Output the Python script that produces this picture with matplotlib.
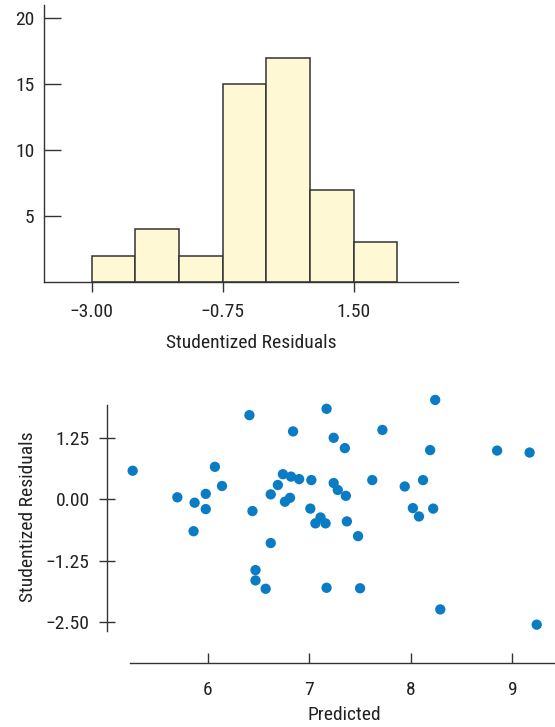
import matplotlib
matplotlib.use("Agg")
import matplotlib.pyplot as plt

plt.rcParams['font.family'] = ['Roboto Condensed', 'Liberation Sans', 'DejaVu Sans']

# histogram of studentized residuals
bin_edges = [-3.0, -2.25, -1.5, -0.75, 0.0, 0.75, 1.5, 2.25]
counts = [2, 4, 2, 15, 17, 7, 3]
hist_xticks = [-3.0, -0.75, 1.5]
hist_xticklabels = ['\u22123.00', '\u22120.75', '1.50']
hist_yticks = [5, 10, 15, 20]

# residuals vs predicted
predicted = [5.26, 5.70, 5.87, 5.86, 5.98, 5.98, 6.07, 6.14, 6.41, 6.44,
             6.47, 6.47, 6.57, 6.62, 6.62, 6.69, 6.74, 6.82, 6.76, 6.81,
             6.90, 6.84, 7.02, 7.01, 7.06, 7.11, 7.16, 7.17, 7.17, 7.24,
             7.24, 7.28, 7.36, 7.35, 7.37, 7.48, 7.50, 7.62, 7.72, 7.94,
             8.02, 8.08, 8.12, 8.19, 8.22, 8.24, 8.29, 8.85, 9.17, 9.24]
residuals = [0.58, 0.04, -0.07, -0.65, 0.11, -0.20, 0.66, 0.27, 1.71, -0.24,
             -1.44, -1.65, -1.82, -0.89, 0.10, 0.29, 0.51, 0.46, -0.05, 0.03,
             0.41, 1.38, 0.39, -0.19, -0.49, -0.37, -0.49, 1.84, -1.80, 1.25,
             0.33, 0.19, 0.07, 1.04, -0.45, -0.75, -1.81, 0.39, 1.41, 0.26,
             -0.18, -0.35, 0.39, 1.00, -0.19, 2.02, -2.24, 0.99, 0.95, -2.55]
sc_xticks = [6, 7, 8, 9]
sc_yticks = [1.25, 0.0, -1.25, -2.5]
sc_yticklabels = ['1.25', '0.00', '\u22121.25', '\u22122.50']

axis_col = '#333333'
text_col = '#222222'
bar_fill = '#fff8d4'
dot_col = '#0a7cc4'
fs = 14

fig = plt.figure(figsize=(5.55, 7.27), dpi=100)

# ---- top: histogram ----
ax1 = fig.add_axes([0.0793, 0.6121, 0.7459, 0.381])
lefts = bin_edges[:-1]
widths = [b - a for a, b in zip(bin_edges[:-1], bin_edges[1:])]
ax1.bar(lefts, counts, width=widths, align='edge', color=bar_fill,
        edgecolor=axis_col, linewidth=1.1, zorder=2)
ax1.set_xlim(-3.82, 3.29)
ax1.set_ylim(0, 21)
ax1.spines['top'].set_visible(False)
ax1.spines['right'].set_visible(False)
for s in ('left', 'bottom'):
    ax1.spines[s].set_color(axis_col)
    ax1.spines[s].set_linewidth(1.0)
    ax1.spines[s].set_zorder(3)
ax1.set_xticks(hist_xticks)
ax1.set_xticklabels(hist_xticklabels)
ax1.set_yticks(hist_yticks)
ax1.tick_params(axis='y', direction='in', length=12, width=1.0, color=axis_col,
                pad=7, labelsize=fs, labelcolor=text_col)
ax1.tick_params(axis='x', direction='out', length=7, width=1.0, color=axis_col,
                pad=8, labelsize=fs, labelcolor=text_col)
ax1.set_xlabel('Studentized Residuals', fontsize=fs, color=text_col)
ax1.xaxis.set_label_coords(0.5, -0.222)
ax1.xaxis.label.set_va('center')

# ---- bottom: residuals vs predicted ----
ax2 = fig.add_axes([0.1933, 0.0880, 0.8067, 0.3673])
ax2.scatter(predicted, residuals, s=55, color=dot_col, edgecolors='none',
            zorder=3, clip_on=False)
ax2.set_xlim(5.01, 9.42)
ax2.set_ylim(-3.33, 2.1)
ax2.spines['top'].set_visible(False)
ax2.spines['right'].set_visible(False)
ax2.spines['left'].set_bounds(-2.68, 1.92)
ax2.spines['bottom'].set_bounds(5.23, 9.42)
for s in ('left', 'bottom'):
    ax2.spines[s].set_color(axis_col)
    ax2.spines[s].set_linewidth(1.0)
ax2.set_xticks(sc_xticks)
ax2.set_yticks(sc_yticks)
ax2.set_yticklabels(sc_yticklabels)
ax2.tick_params(axis='y', direction='inout', length=11.5, width=1.0,
                color=axis_col, pad=7, labelsize=fs, labelcolor=text_col)
ax2.tick_params(axis='x', direction='in', length=7, width=1.0,
                color=axis_col, pad=13, labelsize=fs, labelcolor=text_col)
ax2.set_xlabel('Predicted', fontsize=fs, color=text_col)
ax2.xaxis.set_label_coords(0.5287, -0.195)
ax2.xaxis.label.set_va('center')
ax2.set_ylabel('Studentized Residuals', fontsize=fs, color=text_col)
ax2.yaxis.set_label_coords(-0.177, 0.547)
ax2.yaxis.label.set_va('center')

fig.savefig('out.png', dpi=100)
